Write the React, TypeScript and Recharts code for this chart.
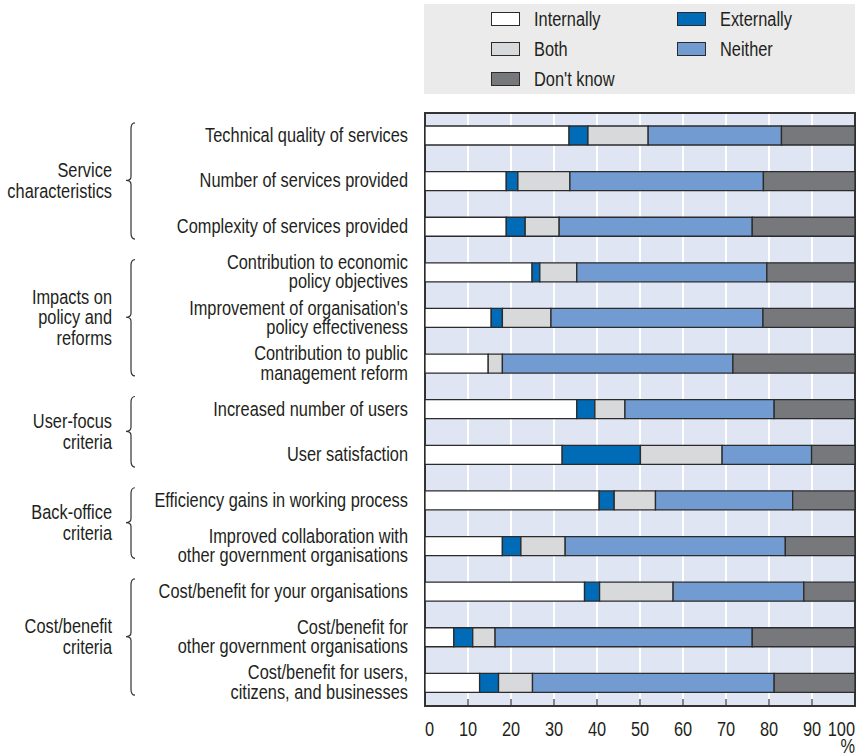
import React from 'react';
import { BarChart, Bar, XAxis, YAxis, CartesianGrid, Legend, ReferenceArea } from 'recharts';

const categories = [
  'Technical quality of services',
  'Number of services provided',
  'Complexity of services provided',
  'Contribution to economic\npolicy objectives',
  "Improvement of organisation's\npolicy effectiveness",
  'Contribution to public\nmanagement reform',
  'Increased number of users',
  'User satisfaction',
  'Efficiency gains in working process',
  'Improved collaboration with\nother government organisations',
  'Cost/benefit for your organisations',
  'Cost/benefit for\nother government organisations',
  'Cost/benefit for users,\ncitizens, and businesses',
];

const internally = [33.5, 18.9, 18.9, 24.9, 15.4, 14.7, 35.3, 31.9, 40.5, 18.0, 37.1, 6.7, 12.7];
const externally = [4.4, 2.7, 4.4, 1.8, 2.6, 0, 4.2, 18.2, 3.5, 4.3, 3.5, 4.4, 4.4];
const both = [14.0, 12.1, 7.9, 8.6, 11.3, 3.3, 7.0, 19.0, 9.6, 10.3, 17.1, 5.2, 7.9];
const neither = [31.0, 45.0, 44.9, 44.2, 49.3, 53.6, 34.7, 20.8, 31.9, 51.2, 30.4, 59.8, 56.2];
const dontKnow = [17.1, 21.3, 23.9, 20.5, 21.4, 28.4, 18.8, 10.1, 14.5, 16.2, 11.9, 23.9, 18.8];

const seriesNames = ['Internally', 'Externally', 'Both', 'Neither', "Don't know"];
const xTicks = [0, 10, 20, 30, 40, 50, 60, 70, 80, 90, 100];

const groups = [
  { lines: ['Service', 'characteristics'], start: 0, end: 2 },
  { lines: ['Impacts on', 'policy and', 'reforms'], start: 3, end: 5 },
  { lines: ['User-focus', 'criteria'], start: 6, end: 7 },
  { lines: ['Back-office', 'criteria'], start: 8, end: 9 },
  { lines: ['Cost/benefit', 'criteria'], start: 10, end: 12 },
];

const data = categories.map((name, i) => ({
  name,
  internally: internally[i],
  externally: externally[i],
  both: both[i],
  neither: neither[i],
  dontKnow: dontKnow[i],
}));

// no narrow font installed, so Liberation Sans squeezed horizontally
const FONT = "'Liberation Sans', Arial, sans-serif";
const SX = 0.84;
const FS = 19.5;
const TEXT = '#231f20';
const W = 858;
const H = 755;
const TOP = 113;
const BOTTOM_AXIS = 49;
const BAND = (H - TOP - BOTTOM_AXIS) / categories.length;

const NText = ({ x, y, anchor = 'end', children }: any) => (
  <text
    transform={`translate(${x},${y}) scale(${SX},1)`}
    textAnchor={anchor}
    fontFamily={FONT}
    fontSize={FS}
    fill={TEXT}
  >
    {children}
  </text>
);

const CategoryTick = (props: any) => {
  const { x, y, payload, index } = props;
  const lines = String(payload.value).split('\n');
  const lh = 19.5;
  const y0 = y - ((lines.length - 1) * lh) / 2;
  const group = groups.find(g => g.start === index);
  let groupEl = null;
  if (group) {
    const yTop = y - 13;
    const yBot = y + (group.end - group.start) * BAND + 12;
    const mid = y + ((group.end - group.start) * BAND) / 2;
    const glh = 20.5;
    const gy0 = mid - ((group.lines.length - 1) * glh) / 2;
    const bx = 131;
    const path = `M ${bx + 4} ${yTop} Q ${bx} ${yTop} ${bx} ${yTop + 6} L ${bx} ${mid - 5} Q ${bx} ${mid - 1} ${bx - 5} ${mid - 1} Q ${bx} ${mid - 1} ${bx} ${mid + 3} L ${bx} ${yBot - 6} Q ${bx} ${yBot} ${bx + 4} ${yBot}`;
    groupEl = (
      <g>
        <path d={path} fill="none" stroke="#333" strokeWidth={1.2} />
        {group.lines.map((l, i) => (
          <NText key={i} x={112} y={gy0 + i * glh + 6}>{l}</NText>
        ))}
      </g>
    );
  }
  return (
    <g>
      {lines.map((l, i) => (
        <NText key={i} x={x - 17} y={y0 + i * lh + 6}>{l}</NText>
      ))}
      {groupEl}
    </g>
  );
};

const ValueTick = (props: any) => {
  const { x, y, payload, index } = props;
  const last = index === xTicks.length - 1;
  const anchor = index === 0 ? 'start' : last ? 'end' : 'middle';
  return (
    <g>
      {index > 0 && !last && <line x1={x} x2={x} y1={y - 7} y2={y} stroke="#333" strokeWidth={1.2} />}
      <NText x={x} y={y + 30} anchor={anchor}>{payload.value}</NText>
      {last && <NText x={x} y={y + 47} anchor="end">%</NText>}
    </g>
  );
};

const LegendBox = (props: any) => {
  const payload = [...(props.payload || [])].sort(
    (a: any, b: any) => seriesNames.indexOf(a.value) - seriesNames.indexOf(b.value)
  );
  return (
    <div
      style={{
        background: '#ebebeb',
        height: 90,
        boxSizing: 'border-box',
        paddingLeft: 67,
        display: 'grid',
        gridTemplateColumns: '186px 186px',
        gridAutoRows: '30px',
        fontFamily: FONT,
        fontSize: FS,
        color: TEXT,
      }}
    >
      {payload.map((entry: any) => (
        <div key={entry.value} style={{ display: 'flex', alignItems: 'center' }}>
          <span
            style={{
              display: 'inline-block',
              width: 29,
              height: 14,
              boxSizing: 'border-box',
              border: '1.5px solid #2b2b2b',
              background: entry.color,
              marginRight: 14,
              flex: 'none',
            }}
          />
          <span style={{ display: 'inline-block', transform: `scaleX(${SX})`, transformOrigin: 'left center', whiteSpace: 'nowrap' }}>
            {entry.value}
          </span>
        </div>
      ))}
    </div>
  );
};

const STROKE = '#2b2b2b';

export default function App() {
  return (
    <div style={{ position: 'absolute', left: 0, top: 0, width: W, height: H, background: '#fff' }}>
      <BarChart
        width={W}
        height={H}
        data={data}
        layout="vertical"
        margin={{ top: TOP, right: 3, bottom: 0, left: 0 }}
        barSize={19}
      >
        <CartesianGrid horizontal={false} stroke="#ffffff" strokeWidth={2} fill="#dfe5f3" />
        <XAxis
          type="number"
          domain={[0, 100]}
          ticks={xTicks}
          interval={0}
          height={BOTTOM_AXIS}
          axisLine={false}
          tickLine={false}
          tickSize={0}
          tickMargin={0}
          tick={(p: any) => <ValueTick {...p} />}
        />
        <YAxis
          type="category"
          dataKey="name"
          width={425}
          axisLine={false}
          tickLine={false}
          tickSize={0}
          tickMargin={0}
          interval={0}
          tick={(p: any) => <CategoryTick {...p} />}
        />
        <Legend
          layout="vertical"
          align="center"
          verticalAlign="middle"
          wrapperStyle={{ top: 4, left: 424, width: 431, height: 90 }}
          content={(p: any) => <LegendBox {...p} />}
        />
        <Bar dataKey="internally" name={seriesNames[0]} stackId="a" fill="#ffffff" stroke={STROKE} strokeWidth={1.3} isAnimationActive={false} />
        <Bar dataKey="externally" name={seriesNames[1]} stackId="a" fill="#006bb6" stroke={STROKE} strokeWidth={1.3} isAnimationActive={false} />
        <Bar dataKey="both" name={seriesNames[2]} stackId="a" fill="#d8d9db" stroke={STROKE} strokeWidth={1.3} isAnimationActive={false} />
        <Bar dataKey="neither" name={seriesNames[3]} stackId="a" fill="#729bd1" stroke={STROKE} strokeWidth={1.3} isAnimationActive={false} />
        <Bar dataKey="dontKnow" name={seriesNames[4]} stackId="a" fill="#77787b" stroke={STROKE} strokeWidth={1.3} isAnimationActive={false} />
        <ReferenceArea x1={0} x2={100} fill="none" stroke="#333" strokeWidth={2} ifOverflow="visible" />
      </BarChart>
    </div>
  );
}
